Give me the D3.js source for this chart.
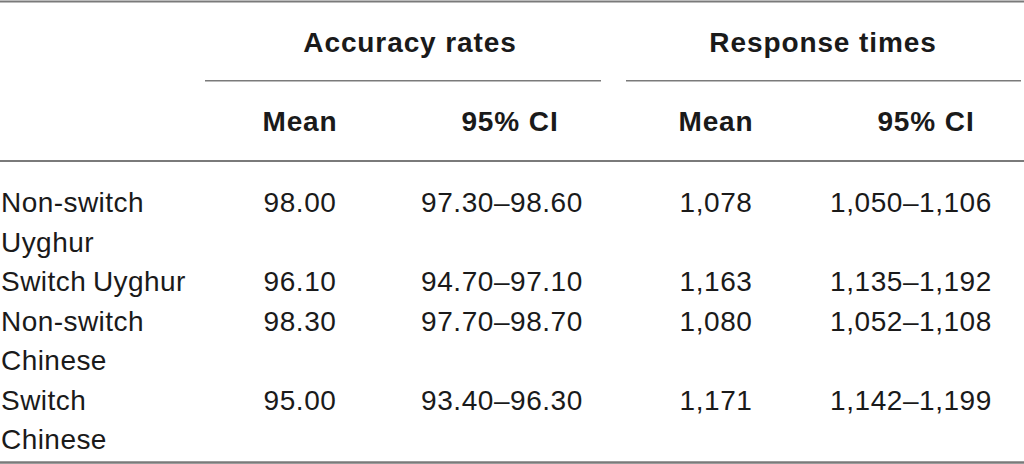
<!DOCTYPE html>
<html>
<head>
<meta charset="utf-8">
<script src="https://cdn.jsdelivr.net/npm/d3@7"></script>
<style>
  html, body { margin: 0; padding: 0; background: #fff; }
  svg { display: block; }
  text { font-family: "Liberation Sans", Arial, Helvetica, sans-serif; }
</style>
</head>
<body>
<div id="chart"></div>
<script>
// table content
const groups = ["Accuracy rates", "Response times"];
const subHeads = ["Mean", "95% CI", "Mean", "95% CI"];
const conditions = [["Non-switch", "Uyghur"], ["Switch Uyghur"], ["Non-switch", "Chinese"], ["Switch", "Chinese"]];
const accMean = ["98.00", "96.10", "98.30", "95.00"];
const accCI = ["97.30–98.60", "94.70–97.10", "97.70–98.70", "93.40–96.30"];
const rtMean = ["1,078", "1,163", "1,080", "1,171"];
const rtCI = ["1,050–1,106", "1,135–1,192", "1,052–1,108", "1,142–1,199"];

(function () {
  const W = 1024, H = 464;
  const svg = d3.select("#chart").append("svg").attr("width", W).attr("height", H);

  const rule = "#7a7a7a", ink = "#1a1a1a";
  const fs = 28;
  const lsBody = 0.55, lsHead = 0.9; // source face runs a bit wider than Arial

  // column centres: header and body cells sit slightly differently in the CI columns
  const groupX = [410, 823];
  const headX = [300, 510, 716, 926];
  const bodyX = [300, 502, 716, 911];
  const groupSpan = [[205, 601], [626, 1021]];

  // one text line every 39.5px, first body baseline at 212
  const nLines = d3.sum(conditions, c => c.length);
  const lineY = d3.scaleLinear().domain([0, nLines - 1]).range([212, 212 + 39.5 * (nLines - 1)]);
  let acc = 0;
  const rowStart = conditions.map(c => { const s = acc; acc += c.length; return s; });

  // horizontal rules
  const hr = (y, x1, x2, w) => svg.append("line")
    .attr("x1", x1).attr("x2", x2).attr("y1", y).attr("y2", y)
    .attr("stroke", rule).attr("stroke-width", w);
  hr(1.5, 0, W, 2.2);
  hr(161, 0, W, 2.2);
  hr(462.5, 0, W, 2.6);
  groupSpan.forEach(s => hr(80.8, s[0], s[1], 1.5));

  // group headers
  svg.selectAll("text.group").data(groups).join("text").attr("class", "group")
    .attr("x", (d, i) => groupX[i])
    .attr("y", 51.7)
    .attr("text-anchor", "middle")
    .attr("font-size", fs).attr("font-weight", "bold").attr("fill", ink)
    .attr("letter-spacing", lsHead)
    .text(d => d);

  svg.selectAll("text.sub").data(subHeads).join("text").attr("class", "sub")
    .attr("x", (d, i) => headX[i]).attr("y", 131.2)
    .attr("text-anchor", "middle")
    .attr("font-size", fs).attr("font-weight", "bold").attr("fill", ink)
    .attr("letter-spacing", lsHead)
    .text(d => d);

  // row labels
  const lab = svg.append("g").selectAll("text").data(conditions).join("text")
    .attr("font-size", fs).attr("fill", ink)
    .attr("letter-spacing", 0.45).attr("word-spacing", -1.5);
  lab.selectAll("tspan").data((d, i) => d.map((t, j) => ({ t, k: rowStart[i] + j }))).join("tspan")
    .attr("x", 1).attr("y", d => lineY(d.k)).text(d => d.t);

  // numeric cells
  const cols = [accMean, accCI, rtMean, rtCI];
  cols.forEach((col, ci) => {
    svg.append("g").selectAll("text").data(col).join("text")
      .attr("x", bodyX[ci]).attr("y", (d, i) => lineY(rowStart[i]))
      .attr("text-anchor", "middle")
      .attr("font-size", fs).attr("fill", ink).attr("letter-spacing", lsBody)
      .text(d => d);
  });
})();
</script>
</body>
</html>
